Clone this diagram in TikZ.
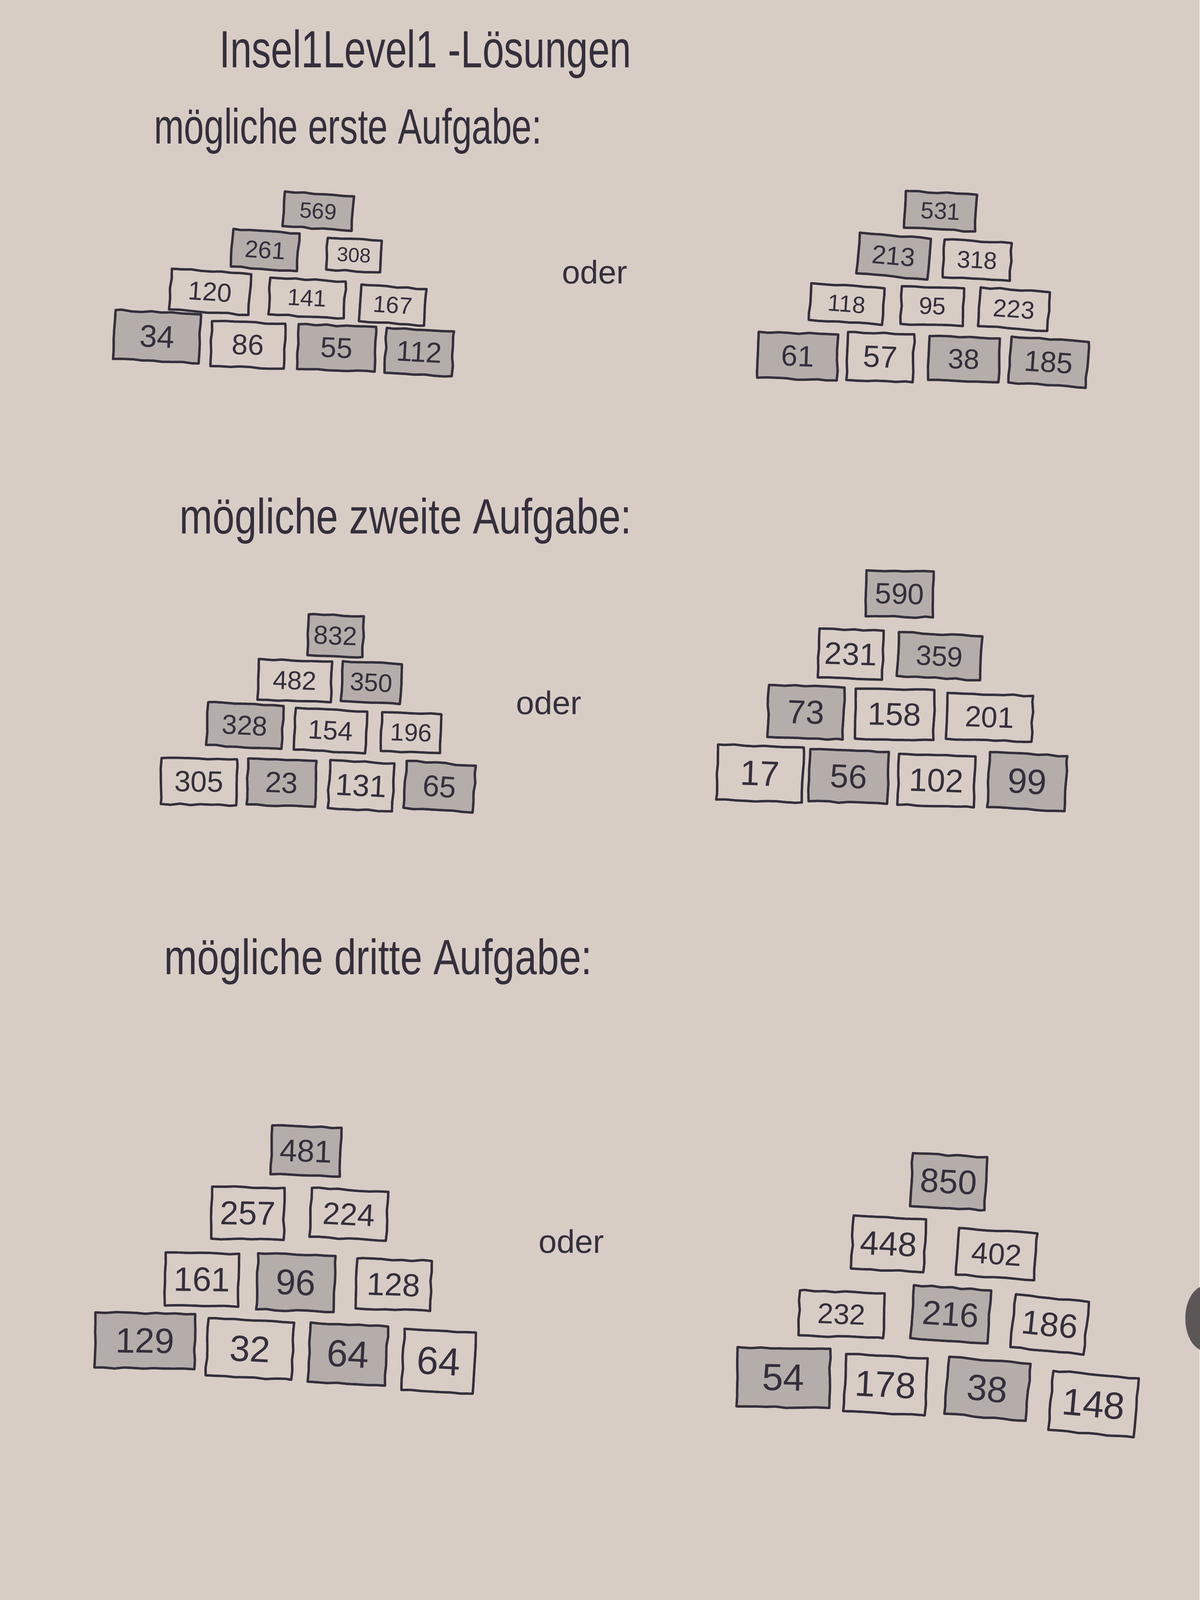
\documentclass[tikz,border=0pt]{standalone}
\usepackage{fontspec}
\setmainfont{Liberation Sans}
\usetikzlibrary{decorations.pathmorphing}
\definecolor{paper}{RGB}{216,205,197}
\definecolor{pen}{RGB}{52,47,60}
\definecolor{shade}{RGB}{180,173,170}
\definecolor{blob}{RGB}{92,87,87}
\tikzset{
  cell/.style={draw=pen, line width=1.7pt, inner sep=0pt, text=pen,
    line join=round, decorate, decoration={random steps, segment length=7pt, amplitude=0.5pt}},
  shaded/.style={fill=shade},
  plain/.style={},
  heading/.style={text=pen, anchor=base west, inner sep=0pt, font=\fontsize{35}{40}\selectfont},
  oder/.style={text=pen, anchor=base, inner sep=0pt, font=\fontsize{23}{26}\selectfont},
}
\newcommand\pc[8]{%
  \node[cell,#7,minimum width=#4*0.72pt,minimum height=#5*0.72pt,rotate=#6,
    font=\fontsize{\fpeval{0.46*#5}}{\fpeval{0.5*#5}}\selectfont] (#1) at (#2,#3) {#8};}
\begin{document}
\begin{tikzpicture}[x=0.72pt,y=-0.72pt]
\fill[paper] (0,0) rectangle (1176,1568);
\useasboundingbox (0,0) rectangle (1176,1568);
\fill[blob] (1182,1292) ellipse [x radius=20, y radius=32];

% headings
\node[heading, xscale=0.74, font=\fontsize{37}{42}\selectfont] (title) at (215,66) {Insel1Level1 -Lösungen};
\node[heading, xscale=0.725] (h1) at (151,141) {mögliche erste Aufgabe:};
\node[heading, xscale=0.80] (h2) at (176,523) {mögliche zweite Aufgabe:};
\node[heading, xscale=0.80] (h3) at (161,955) {mögliche dritte Aufgabe:};

\node[oder] (o1) at (583,278) {oder};
\node[oder] (o2) at (538,700) {oder};
\node[oder] (o3) at (560,1228) {oder};

% Pyramid 1
\pc{a1}{312}{207}{68}{34}{-4}{shaded}{569}
\pc{a2}{260}{245}{65}{37}{-4}{shaded}{261}
\pc{a3}{347}{250}{53}{31}{-3}{plain}{308}
\pc{a4}{206}{286}{78}{40}{-4}{plain}{120}
\pc{a5}{301}{292}{74}{36}{-3}{plain}{141}
\pc{a6}{385}{299}{64}{36}{-4}{plain}{167}
\pc{a7}{154}{330}{84}{48}{-3}{shaded}{34}
\pc{a8}{243}{338}{72}{44}{-2}{plain}{86}
\pc{a9}{330}{341}{76}{44}{-2}{shaded}{55}
\pc{a10}{411}{345}{66}{44}{-3}{shaded}{112}

% Pyramid 2
\pc{b1}{922}{207}{70}{36}{-3}{shaded}{531}
\pc{b2}{876}{251}{70}{40}{-5}{shaded}{213}
\pc{b3}{958}{255}{66}{37}{-3}{plain}{318}
\pc{b4}{830}{298}{72}{36}{-4}{plain}{118}
\pc{b5}{914}{300}{61}{37}{-2}{plain}{95}
\pc{b6}{994}{303}{68}{38}{-4}{plain}{223}
\pc{b7}{782}{349}{78}{45}{-2}{shaded}{61}
\pc{b8}{863}{350}{65}{47}{-2}{plain}{57}
\pc{b9}{945}{352}{69}{43}{-2}{shaded}{38}
\pc{b10}{1028}{355}{76}{45}{-4}{shaded}{185}

% Pyramid 3
\pc{c1}{329}{623}{54}{40}{-2}{shaded}{832}
\pc{c2}{289}{667}{72}{40}{-2}{plain}{482}
\pc{c3}{364}{669}{58}{39}{-3}{shaded}{350}
\pc{c4}{240}{711}{74}{42}{-3}{shaded}{328}
\pc{c5}{324}{716}{70}{41}{-3}{plain}{154}
\pc{c6}{403}{718}{58}{38}{-2}{plain}{196}
\pc{c7}{195}{766}{74}{45}{-1}{plain}{305}
\pc{c8}{276}{767}{67}{45}{-2}{shaded}{23}
\pc{c9}{354}{770}{63}{47}{-3}{plain}{131}
\pc{c10}{431}{771}{68}{46}{-4}{shaded}{65}

% Pyramid 4
\pc{d1}{882}{582}{66}{45}{-1}{shaded}{590}
\pc{d2}{834}{641}{63}{48}{-2}{plain}{231}
\pc{d3}{921}{643}{82}{43}{-3}{shaded}{359}
\pc{d4}{790}{698}{74}{51}{-2}{shaded}{73}
\pc{d5}{877}{700}{77}{49}{-1}{plain}{158}
\pc{d6}{970}{703}{84}{45}{-2}{plain}{201}
\pc{d7}{745}{758}{84}{54}{-2}{plain}{17}
\pc{d8}{832}{761}{77}{51}{-2}{shaded}{56}
\pc{d9}{918}{765}{75}{50}{-2}{plain}{102}
\pc{d10}{1007}{766}{76}{54}{-3}{shaded}{99}

% Pyramid 5
\pc{e1}{300}{1128}{68}{48}{-2}{shaded}{481}
\pc{e2}{243}{1189}{71}{51}{-1}{plain}{257}
\pc{e3}{342}{1190}{75}{48}{-3}{plain}{224}
\pc{e4}{198}{1254}{72}{52}{-1}{plain}{161}
\pc{e5}{290}{1257}{76}{55}{-2}{shaded}{96}
\pc{e6}{386}{1259}{73}{49}{-2}{plain}{128}
\pc{e7}{142}{1314}{98}{54}{-1}{shaded}{129}
\pc{e8}{245}{1322}{84}{56}{-3}{plain}{32}
\pc{e9}{341}{1327}{76}{58}{-3}{shaded}{64}
\pc{e10}{430}{1334}{70}{60}{-3}{plain}{64}

% Pyramid 6
\pc{f1}{930}{1158}{73}{52}{-3}{shaded}{850}
\pc{f2}{871}{1219}{71}{52}{-3}{plain}{448}
\pc{f3}{977}{1229}{77}{46}{-4}{plain}{402}
\pc{f4}{825}{1288}{83}{44}{-2}{plain}{232}
\pc{f5}{932}{1288}{76}{52}{-4}{shaded}{216}
\pc{f6}{1029}{1298}{72}{52}{-6}{plain}{186}
\pc{f7}{768}{1350}{91}{58}{-1}{shaded}{54}
\pc{f8}{868}{1357}{80}{56}{-3}{plain}{178}
\pc{f9}{968}{1361}{80}{56}{-5}{shaded}{38}
\pc{f10}{1072}{1376}{84}{58}{-5}{plain}{148}
\end{tikzpicture}
\end{document}
